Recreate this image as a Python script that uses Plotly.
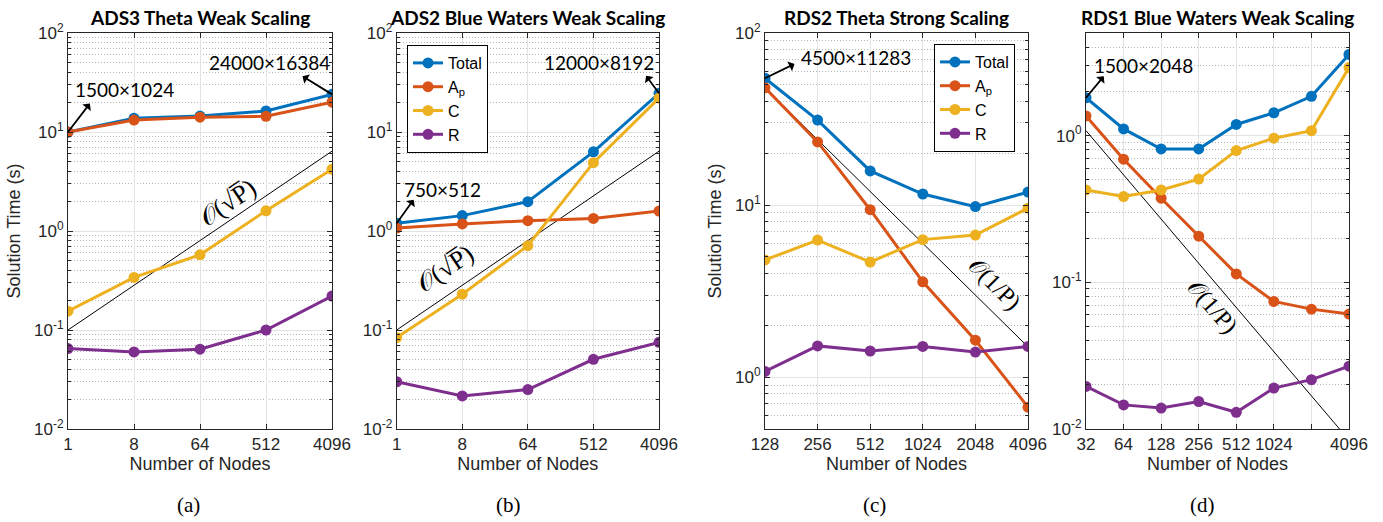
import numpy as np
import plotly.graph_objects as go

# ---------------- data ----------------
nodes_ab = [1, 8, 64, 512, 4096]
nodes_c = [128, 256, 512, 1024, 2048, 4096]
nodes_d = [32, 64, 128, 256, 512, 1024, 2048, 4096]

# (a) ADS3 Theta weak scaling
a_total = [10.0, 13.8, 14.5, 16.3, 24.0]
a_ap = [10.0, 13.2, 14.1, 14.4, 20.0]
a_c = [0.155, 0.34, 0.575, 1.6, 4.2]
a_r = [0.065, 0.060, 0.064, 0.100, 0.22]

# (b) ADS2 Blue Waters weak scaling
b_total = [1.2, 1.43, 1.98, 6.3, 24.6]
b_ap = [1.07, 1.18, 1.27, 1.34, 1.59]
b_c = [0.084, 0.23, 0.71, 4.9, 22.0]
b_r = [0.030, 0.0216, 0.025, 0.0506, 0.075]

# (c) RDS2 Theta strong scaling
c_total = [54.6, 31.2, 15.8, 11.6, 9.8, 11.9]
c_ap = [48.0, 23.3, 9.4, 3.58, 1.64, 0.67]
c_c = [4.8, 6.26, 4.67, 6.3, 6.7, 9.6]
c_r = [1.08, 1.52, 1.42, 1.51, 1.40, 1.51]

# (d) RDS1 Blue Waters weak scaling
d_total = [1.81, 1.11, 0.81, 0.81, 1.19, 1.43, 1.85, 3.57]
d_ap = [1.36, 0.69, 0.374, 0.206, 0.114, 0.074, 0.0656, 0.0607]
d_c = [0.426, 0.384, 0.426, 0.505, 0.79, 0.96, 1.08, 2.91]
d_r = [0.0195, 0.0146, 0.0139, 0.0154, 0.0130, 0.019, 0.0217, 0.0268]

# complexity guide lines (end points)
sqrt_ref_nodes = [1, 4096]
sqrt_ref_time = [0.1, 6.4]
inv_ref_nodes_c = [128, 4096]
inv_ref_time_c = [48.0, 1.5]
inv_ref_nodes_d = [32, 4096]
inv_ref_time_d = [1.08, 0.0084]

titles = ["ADS3 Theta Weak Scaling", "ADS2 Blue Waters Weak Scaling",
          "RDS2 Theta Strong Scaling", "RDS1 Blue Waters Weak Scaling"]
captions = ["(a)", "(b)", "(c)", "(d)"]
series_names = ["Total", "A<sub>p</sub>", "C", "R"]
colors = ["#0072BD", "#D95319", "#EDB120", "#7E2F8E"]

# ---------------- layout geometry ----------------
W, H = 1383, 522
x_dom = [(68, 332), (396.7, 659), (765, 1028), (1086, 1349)]
y_top, y_bot = 33, 429

fig = go.Figure()

panels = [
    (nodes_ab, [a_total, a_ap, a_c, a_r], None),
    (nodes_ab, [b_total, b_ap, b_c, b_r], "legend"),
    (nodes_c, [c_total, c_ap, c_c, c_r], "legend2"),
    (nodes_d, [d_total, d_ap, d_c, d_r], None),
]
refs = [
    (sqrt_ref_nodes, sqrt_ref_time),
    (sqrt_ref_nodes, sqrt_ref_time),
    (inv_ref_nodes_c, inv_ref_time_c),
    (inv_ref_nodes_d, inv_ref_time_d),
]

for i, ((nodes, series, leg), (rx, ry)) in enumerate(zip(panels, refs)):
    ax = "" if i == 0 else str(i + 1)
    xa, ya = "x" + ax, "y" + ax
    fig.add_trace(go.Scatter(x=rx, y=ry, mode="lines", xaxis=xa, yaxis=ya,
                             line=dict(color="black", width=1), showlegend=False,
                             hoverinfo="skip"))
    for name, vals, col in zip(series_names, series, colors):
        kw = {}
        if leg is not None:
            kw["legend"] = leg
        fig.add_trace(go.Scatter(
            x=nodes, y=vals, name=name, mode="lines+markers", xaxis=xa, yaxis=ya,
            line=dict(color=col, width=3), marker=dict(color=col, size=11),
            showlegend=leg is not None, **kw))

axis_common = dict(
    showline=True, linecolor="#262626", linewidth=1, mirror="ticks",
    ticks="inside", ticklen=5, tickcolor="#262626",
    showgrid=True, gridcolor="#e3e3e3", gridwidth=1,
    zeroline=False, automargin=False,
    tickfont=dict(family="Liberation Sans, Arial", size=17, color="#262626"),
)


def minor_vals(lo_exp, hi_exp, lo=None, hi=None):
    out = []
    for e in range(lo_exp, hi_exp + 1):
        for m in range(2, 10):
            v = m * 10.0 ** e
            if (lo is None or v > lo * 1.0001) and (hi is None or v < hi * 0.9999):
                out.append(v)
    return out


def sup_label(e):
    return "10<sup>%d</sup>" % e


y_specs = [
    dict(range=[-2, 2], tickvals=[0.01, 0.1, 1, 10, 100], exps=[-2, -1, 0, 1, 2],
         minor=minor_vals(-2, 1)),
    dict(range=[-2, 2], tickvals=[0.01, 0.1, 1, 10, 100], exps=[-2, -1, 0, 1, 2],
         minor=minor_vals(-2, 1)),
    dict(range=[np.log10(0.5), 2], tickvals=[1, 10, 100], exps=[0, 1, 2],
         minor=minor_vals(-1, 1, lo=0.5)),
    dict(range=[-2, np.log10(5)], tickvals=[0.01, 0.1, 1], exps=[-2, -1, 0],
         minor=minor_vals(-2, 0, hi=5)),
]
x_specs = [
    (nodes_ab, [str(n) for n in nodes_ab]),
    (nodes_ab, [str(n) for n in nodes_ab]),
    (nodes_c, [str(n) for n in nodes_c]),
    (nodes_d, [str(n) if n != 2048 else " " for n in nodes_d]),
]

layout_axes = {}
for i in range(4):
    ax = "" if i == 0 else str(i + 1)
    x0, x1 = x_dom[i]
    tv, tt = x_specs[i]
    xa = dict(axis_common)
    xa.update(type="log", domain=[x0 / W, x1 / W], anchor="y" + ax,
              range=[np.log10(tv[0]), np.log10(tv[-1])],
              tickvals=tv, ticktext=tt,
              title=dict(text="Number of Nodes", standoff=3,
                         font=dict(family="Liberation Sans, Arial", size=18, color="#262626")))
    ys = y_specs[i]
    ya = dict(axis_common)
    ya.update(type="log", domain=[1 - y_bot / H, 1 - y_top / H], anchor="x" + ax,
              range=ys["range"], tickvals=ys["tickvals"],
              ticktext=[sup_label(e) for e in ys["exps"]],
              minor=dict(tickvals=ys["minor"], ticks="inside", ticklen=3,
                         tickcolor="#262626", showgrid=True,
                         gridcolor="#b4b4b4", griddash="1px,2px", gridwidth=1))
    if i in (0, 2):
        ya["title"] = dict(text="Solution Time (s)", standoff=8,
                           font=dict(family="Liberation Sans, Arial", size=18, color="#262626"))
    layout_axes["xaxis" + ax] = xa
    layout_axes["yaxis" + ax] = ya

fig.update_layout(**layout_axes)

annotations = []
for i, t in enumerate(titles):
    x0, x1 = x_dom[i]
    annotations.append(dict(text="<b>%s</b>" % t, x=(x0 + x1) / 2 / W, y=1 - 17 / H,
                            xref="paper", yref="paper", showarrow=False,
                            xanchor="center", yanchor="middle",
                            font=dict(family="Lato, Open Sans", size=19, color="black")))

caption_x = [188, 508, 874, 1202]
for cx, cap in zip(caption_x, captions):
    annotations.append(dict(text=cap, x=cx / W, y=1 - 505 / H, xref="paper", yref="paper",
                            showarrow=False, xanchor="center", yanchor="middle",
                            font=dict(family="Liberation Serif, DejaVu Serif", size=21,
                                      color="black")))

# problem size labels with arrows
size_font = dict(family="Lato, Open Sans", size=19, color="black")
size_labels = [
    # (axis suffix, x, y, arrow dx, arrow dy, text, text xanchor, xshift, yshift)
    ("", nodes_ab[0], a_total[0], 23, -30, "1500×1024", "left", 5, 43),
    ("", nodes_ab[-1], a_total[-1], -31, -19, "24000×16384", "right", 0, 32),
    ("2", nodes_ab[0], b_total[0], 18, -25, "750×512", "left", 5, 34),
    ("2", nodes_ab[-1], b_total[-1], -14, -19, "12000×8192", "right", -3, 31),
    ("3", nodes_c[0], c_total[0], 31, -15, "4500×11283", "left", 34, 21),
    ("4", nodes_d[0], d_total[0], 19, -23, "1500×2048", "left", 6, 32),
]
for ax, px, py, dx, dy, txt, anc, xs, ysh in size_labels:
    annotations.append(dict(x=np.log10(px), y=np.log10(py), xref="x" + ax, yref="y" + ax,
                            text="", showarrow=True, arrowside="start", arrowhead=2,
                            arrowsize=1, arrowwidth=1.8, arrowcolor="black",
                            ax=dx, ay=dy, standoff=0, startstandoff=0))
    annotations.append(dict(x=np.log10(px), y=np.log10(py), xref="x" + ax, yref="y" + ax,
                            text=txt, showarrow=False, xanchor=anc, yanchor="middle",
                            xshift=xs, yshift=ysh, font=size_font))

# complexity labels along the guide lines
order_labels = [
    (228, 203, -34, "𝒪(√P̅)", 26),
    (445, 268, -34, "𝒪(√P̅)", 26),
    (995, 284, 45, "𝒪(1/P)", 24),
    (1212, 306, 49, "𝒪(1/P)", 24),
]
for ox, oy, ang, txt, fs in order_labels:
    annotations.append(dict(x=ox / W, y=1 - oy / H, xref="paper", yref="paper",
                            text=txt, showarrow=False, textangle=ang,
                            xanchor="center", yanchor="middle",
                            font=dict(family="Liberation Serif, DejaVu Serif", size=fs,
                                      color="black")))

legend_common = dict(bgcolor="white", bordercolor="black", borderwidth=1,
                     xanchor="left", yanchor="top", tracegroupgap=0,
                     font=dict(family="Liberation Sans, Arial", size=16, color="black"),
                     itemwidth=30)

fig.update_layout(
    width=W, height=H,
    margin=dict(l=0, r=0, t=0, b=0),
    paper_bgcolor="white", plot_bgcolor="white",
    annotations=annotations,
    legend=dict(legend_common, x=407 / W, y=1 - 45 / H),
    legend2=dict(legend_common, x=934 / W, y=1 - 44 / H),
)

fig.write_html("out.html")
